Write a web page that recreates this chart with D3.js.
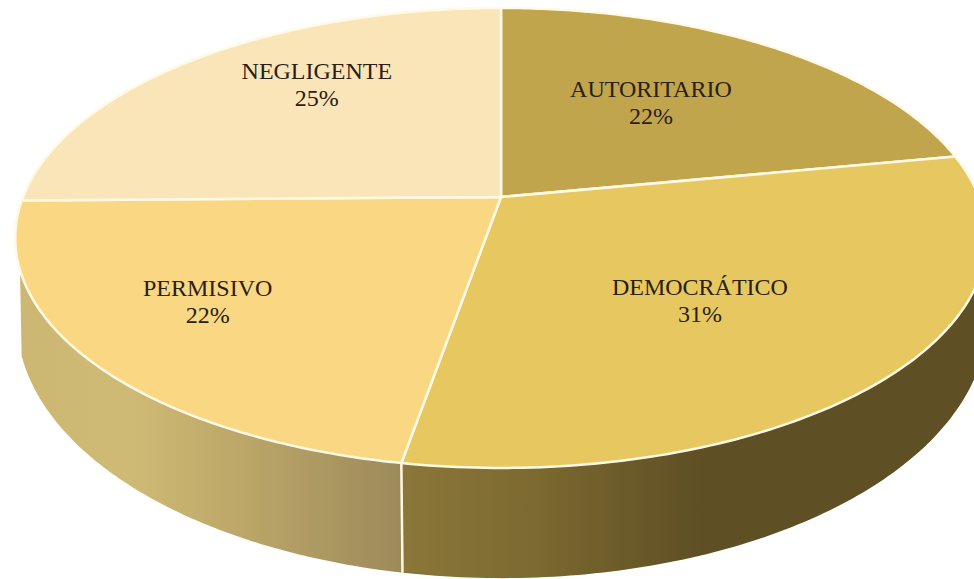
<!DOCTYPE html>
<html><head><meta charset="utf-8">
<script src="https://cdn.jsdelivr.net/npm/d3@7/dist/d3.min.js"></script>
<style>html,body{margin:0;padding:0;background:#fff}svg{display:block}</style>
</head><body><svg id="c" width="974" height="579"></svg>
<script>
const categories = ["AUTORITARIO","DEMOCRÁTICO","PERMISIVO","NEGLIGENTE"];
const values = [22.0, 30.75, 22.0, 25.25];
const sliceColors = ["#c0a54c","#e7c860","#fad883","#fae5b8"];

const svg = d3.select("#c");
const k = -0.178;
const topFace = {x0:501, y0:197, R:478, b:222.7};
const baseFace = {x0:502, y0:274, R:477.3, b:250};
function proj(face, theta, r=1){
  const ux = r*Math.sin(theta), uy = -r*Math.cos(theta), d = 1 + k*uy;
  return [face.x0 + face.R*ux/d, face.y0 + face.b*uy/d];
}
const arcs = d3.pie().sort(null).value(d=>d)(values);
const line = d3.line();
const sample = (a0,a1) => d3.range(0,121).map(i => a0+(a1-a0)*i/120);

const defs = svg.append("defs");
function grad(id, x1, x2, stops){
  const g = defs.append("linearGradient").attr("id",id).attr("gradientUnits","userSpaceOnUse")
    .attr("x1",x1).attr("x2",x2).attr("y1",0).attr("y2",0);
  stops.forEach(s=>g.append("stop").attr("offset",s[0]).attr("stop-color",s[1]));
}
grad("wallPerm",15,401,[[0,"#cdb873"],[0.3,"#cfba75"],[0.55,"#bfa96a"],[1,"#9c8a5a"]]);
grad("wallDem",401,700,[[0,"#8b7739"],[0.43,"#7d6a30"],[1,"#5e4f25"]]);

const edgeStroke = "#fff9e6";
function wall(a0,a1,fill){
  const s = sample(a0,a1);
  const pts = s.map(t=>proj(topFace,t)).concat(s.slice().reverse().map(t=>proj(baseFace,t)));
  svg.append("path").attr("d",line(pts)+"Z").attr("fill",fill);
}
const deg = Math.PI/180;
wall(90*deg, arcs[1].endAngle, "url(#wallDem)");
wall(arcs[2].startAngle, 252*deg, "url(#wallPerm)");
svg.append("path").attr("d",line([proj(topFace,arcs[2].startAngle),proj(baseFace,arcs[2].startAngle)]))
  .attr("stroke",edgeStroke).attr("stroke-width",2.5).attr("fill","none");

arcs.forEach((a,i)=>{
  const pts = [proj(topFace,0,0)].concat(sample(a.startAngle,a.endAngle).map(t=>proj(topFace,t)));
  svg.append("path").attr("d",line(pts)+"Z").attr("fill",sliceColors[i])
    .attr("stroke",edgeStroke).attr("stroke-width",2.5).attr("stroke-linejoin","round");
});

const labelNudge = [[-19,-5],[-22,-3],[-59,6],[6,-31]];
arcs.forEach((a,i)=>{
  const p = proj(topFace,(a.startAngle+a.endAngle)/2,0.6);
  const t = svg.append("text").attr("text-anchor","middle").attr("fill","#2a2018")
    .attr("font-family","'Liberation Serif',serif").attr("font-size",24);
  const x = p[0]+labelNudge[i][0], y = p[1]+labelNudge[i][1];
  t.append("tspan").attr("x",x).attr("y",y).text(categories[i]);
  t.append("tspan").attr("x",x).attr("y",y+27).text(Math.round(a.value)+"%");
});
</script></body></html>
